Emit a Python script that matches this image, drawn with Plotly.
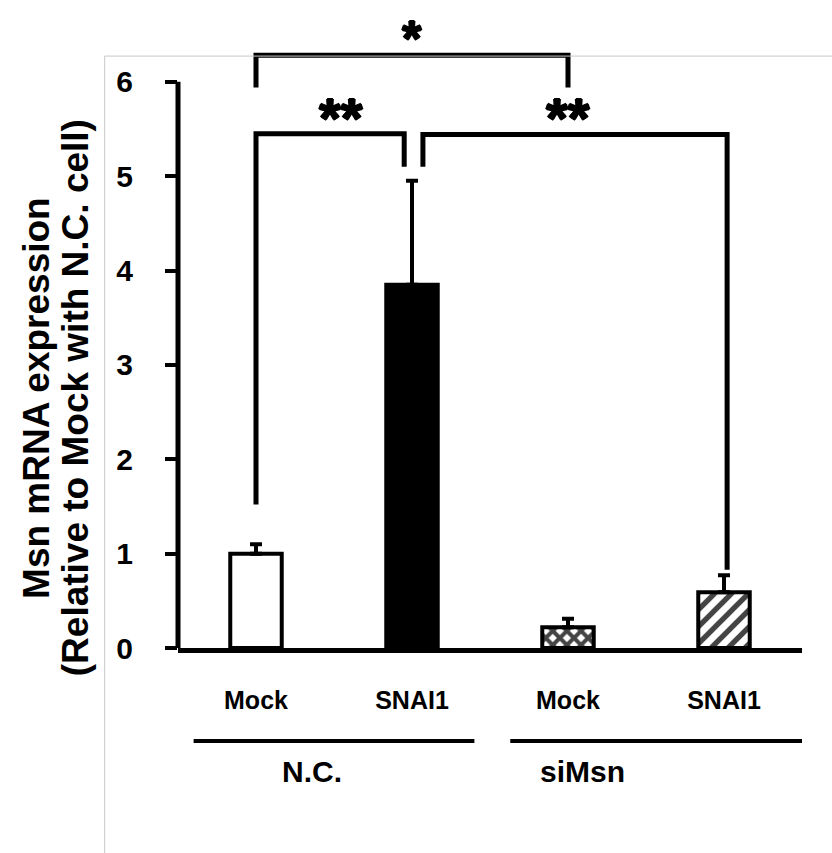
import plotly.graph_objects as go

# ---- data ----
categories = ["Mock", "SNAI1", "Mock", "SNAI1"]
groups = ["N.C.", "siMsn"]
values = [1.00, 3.85, 0.22, 0.59]
errors = [0.10, 1.10, 0.09, 0.18]
y_ticks = [0, 1, 2, 3, 4, 5, 6]
# brackets: (x_left, x_right, y_top, y_leg_left_bottom, y_leg_right_bottom, label, label_x, label_y, label_size)
brackets = [
    (0.00, 2.00, 6.28, 5.94, 5.94, "*", 1.00, 6.14, 50),
    (0.00, 0.95, 5.45, 1.52, 5.10, "**", 0.545, 5.27, 56),
    (1.07, 3.02, 5.44, 5.10, 0.83, "**", 2.00, 5.27, 56),
]

FONT = "Liberation Sans, Arial, sans-serif"
xpos = list(range(len(values)))

fig = go.Figure()
fig.add_bar(
    x=xpos, y=values, width=0.33,
    marker=dict(
        color=["white", "black", "white", "white"],
        line=dict(color="black", width=4),
        pattern=dict(shape=["", "", "x", "/"], fgcolor="black", bgcolor="white", fgopacity=1,
                     size=[8, 8, 10, 12], solidity=[0.5, 0.5, 0.65, 0.45]),
    ),
    error_y=dict(type="data", symmetric=False, array=errors, arrayminus=[0] * len(values),
                 color="black", thickness=4, width=6),
    showlegend=False,
)

shapes = []
# y-axis line from 0 to 6
shapes.append(dict(type="line", xref="paper", yref="y", x0=0, x1=0, y0=0, y1=max(y_ticks),
                   line=dict(color="black", width=5)))
annotations = []
for (xl, xr, yt, yll, ylr, lab, lx, ly, ls) in brackets:
    path = f"M {xl},{yll} L {xl},{yt} L {xr},{yt} L {xr},{ylr}"
    shapes.append(dict(type="path", xref="x", yref="y", path=path,
                       line=dict(color="black", width=5)))
    annotations.append(dict(x=lx, y=ly, xref="x", yref="y", text=lab, showarrow=False,
                            xanchor="center", yanchor="bottom",
                            font=dict(family=FONT, size=ls, color="black", weight="bold",
                                      shadow="1px 0 0 black, -1px 0 0 black, 0 1px 0 black, 0 -1px 0 black")))

# group lines & labels
group_spans = [(-0.40, 1.40), (1.63, 3.50)]
group_label_x = [0.36, 2.09]
for (g0, g1), gname, gx in zip(group_spans, groups, group_label_x):
    shapes.append(dict(type="line", xref="x", yref="paper", x0=g0, x1=g1, y0=-0.154, y1=-0.154,
                       line=dict(color="black", width=4)))
    annotations.append(dict(x=gx, y=-0.204, xref="x", yref="paper", text=gname, showarrow=False,
                            xanchor="center", yanchor="middle",
                            font=dict(family=FONT, size=30, color="black", weight="bold")))

# light gray frame lines
shapes.append(dict(type="line", xref="paper", yref="paper", x0=-0.1175, x1=-0.1175, y0=-0.34, y1=0.98,
                   line=dict(color="#c8c8c8", width=1)))
shapes.append(dict(type="line", xref="paper", yref="paper", x0=-0.1175, x1=1.06, y0=0.98, y1=0.98,
                   line=dict(color="#c8c8c8", width=1)))

# y-axis title (two lines)
TITLE_FONT = dict(family=FONT, size=37, color="black", weight="bold")
annotations.append(dict(x=-0.226, y=0.414, xref="paper", yref="paper", text="Msn mRNA expression",
                        textangle=-90, showarrow=False, xanchor="center", yanchor="middle",
                        font=TITLE_FONT))
annotations.append(dict(x=-0.163, y=0.414, xref="paper", yref="paper",
                        text="(Relative to Mock with N.C. cell)",
                        textangle=-90, showarrow=False, xanchor="center", yanchor="middle",
                        font=TITLE_FONT))

fig.update_layout(
    width=832, height=853,
    margin=dict(l=178, r=30, t=44, b=205),
    paper_bgcolor="white", plot_bgcolor="white",
    shapes=shapes, annotations=annotations,
)
fig.update_xaxes(range=[-0.5, 3.5], tickvals=xpos, ticktext=categories, showline=True,
                 linecolor="black", linewidth=5, ticks="", showgrid=False, zeroline=False,
                 ticklabelstandoff=26,
                 tickfont=dict(family=FONT, size=25, color="black", weight="bold"))
fig.update_yaxes(range=[0, 6.4], tickvals=y_ticks, showline=False, ticks="outside", ticklen=12,
                 tickwidth=4, tickcolor="black", showgrid=False, zeroline=False,
                 ticklabelstandoff=26,
                 tickfont=dict(family=FONT, size=30, color="black", weight="bold"))

fig.write_html("out.html")
